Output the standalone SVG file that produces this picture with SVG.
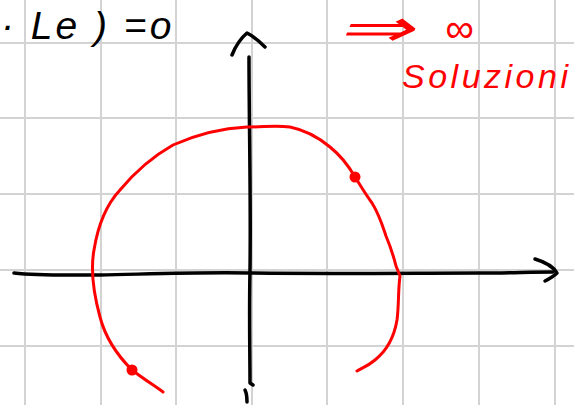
<svg xmlns="http://www.w3.org/2000/svg" width="574" height="405" viewBox="0 0 574 405">
<style>
.grid{stroke:#d3d3d3;stroke-width:2;fill:none}
.ink{stroke:#000;stroke-width:3.5;fill:none;stroke-linecap:round;stroke-linejoin:round}
.red{stroke:#ff0000;stroke-width:3;fill:none;stroke-linecap:round;stroke-linejoin:round}
.hand{font-family:"Liberation Sans",sans-serif;font-style:italic}
</style>
<rect width="574" height="405" fill="#fff"/>
<g id="grid" class="grid">
<line x1="25" y1="0" x2="25" y2="405"/>
<line x1="101" y1="0" x2="101" y2="405"/>
<line x1="176" y1="0" x2="176" y2="405"/>
<line x1="252" y1="0" x2="252" y2="405"/>
<line x1="327" y1="0" x2="327" y2="405"/>
<line x1="403" y1="0" x2="403" y2="405"/>
<line x1="479" y1="0" x2="479" y2="405"/>
<line x1="555" y1="0" x2="555" y2="405"/>
<line x1="0" y1="43" x2="574" y2="43"/>
<line x1="0" y1="118" x2="574" y2="118"/>
<line x1="0" y1="194" x2="574" y2="194"/>
<line x1="0" y1="270" x2="574" y2="270"/>
<line x1="0" y1="346" x2="574" y2="346"/>
</g>
<g id="axes" class="ink">
<path d="M14,273 C40,276 70,275 100,275 C150,274 200,272 250,273 C330,274 420,273 480,273 C510,273 530,272 553,272"/>
<path d="M535,259 C545,262 553,266 557,273 C553,277 549,279 545,281"/>
<path d="M249,57 C249,120 251,200 250,270 C249,320 250,350 250,383 L253,385"/>
<path d="M245,390 C247,394 247,398 247,402"/>
<path d="M232,55 C236,45 241,38 247,33 C253,36 259,41 265,47"/>
</g>
<g id="curve">
<path class="red" d="M163,392 C155,386 145,380 132,370 C118,356 106,340 100,317 C94,295 90,272 94,250 C98,225 106,205 120,190 C135,172 150,158 173,145 C200,133 225,128 247,127 C265,127 275,125 290,127 C305,130 318,137 330,147 C340,155 347,163 355,177 C362,188 366,195 372,203 C379,214 382,224 386,236 C391,248 394,258 396,266 L400,276 C398,290 399,305 397,320 C394,338 385,352 375,360 C368,366 362,368 357,371"/>
<circle cx="355" cy="177" r="5.5" fill="#ff0000"/>
<circle cx="132" cy="370" r="5.5" fill="#ff0000"/>
</g>
<g id="labels">
<text class="hand" x="1" y="39" font-size="39" letter-spacing="3" fill="#000">· Le ) =o</text>
<text class="hand" transform="translate(336,46) scale(1.75,1)" font-size="52" fill="#ff0000">⇒</text>
<text class="hand" x="445" y="42" font-size="40" fill="#ff0000">∞</text>
<text class="hand" x="402" y="88" font-size="34" letter-spacing="3.5" fill="#ff0000">Soluzioni</text>
</g>
</svg>
